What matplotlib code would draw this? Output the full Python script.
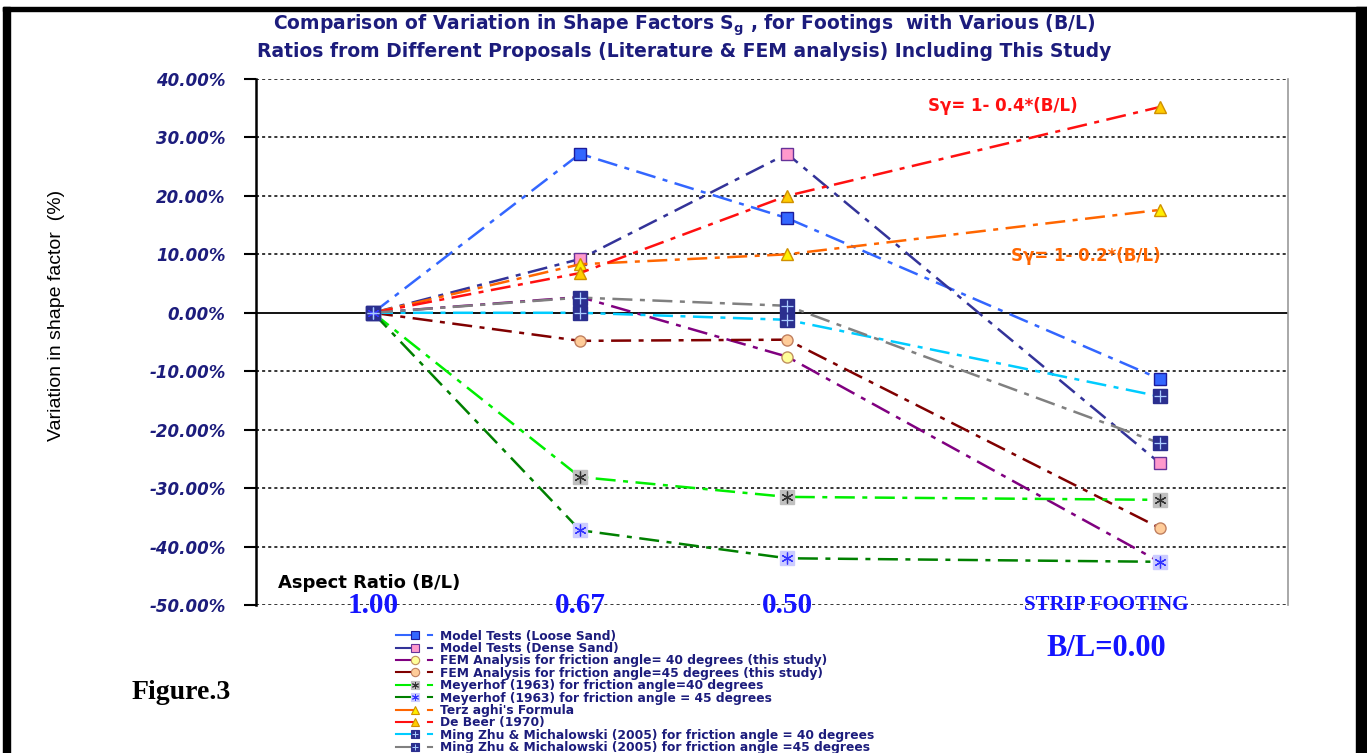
import matplotlib
matplotlib.use("Agg")
import matplotlib.pyplot as plt
from matplotlib.patches import Rectangle
from matplotlib.lines import Line2D
from matplotlib.legend_handler import HandlerBase
from matplotlib.ticker import FuncFormatter

plt.rcParams['font.family'] = ['DejaVu Sans']

# categories (aspect ratio B/L)
categories = ['1.00', '0.67', '0.50', 'STRIP FOOTING']
cat_pos = [0, 1, 2, 3.8]

# variation in shape factor (%)
loose_sand = [0, 27.2, 16.2, -11.3]
dense_sand = [0, 9.2, 27.2, -25.7]
fem_40 = [0, 2.7, -7.5, -42.6]
fem_45 = [0, -4.8, -4.6, -36.8]
meyerhof_40 = [0, -28.1, -31.5, -32.0]
meyerhof_45 = [0, -37.2, -42.0, -42.6]
terzaghi = [0, 8.3, 10.0, 17.6]
de_beer = [0, 6.8, 20.0, 35.2]
zhu_40 = [0, 0.0, -1.2, -14.3]
zhu_45 = [0, 2.6, 1.2, -22.3]

labels = [
    'Model Tests (Loose Sand)',
    'Model Tests (Dense Sand)',
    'FEM Analysis for friction angle= 40 degrees (this study)',
    'FEM Analysis for friction angle=45 degrees (this study)',
    'Meyerhof (1963) for friction angle=40 degrees',
    'Meyerhof (1963) for friction angle = 45 degrees',
    "Terz aghi's Formula",
    'De Beer (1970)',
    'Ming Zhu & Michalowski (2005) for friction angle = 40 degrees',
    'Ming Zhu & Michalowski (2005) for friction angle =45 degrees',
]

navy = '#1c1c7c'
dashdot = (0, (8, 3, 2, 3))
asterisk = (6, 2, 0)

fig = plt.figure(figsize=(13.67, 7.53), dpi=100)
ax = fig.add_axes([0.1873, 0.1965, 0.7549, 0.6986])

# series: values, line colour, marker, marker face, marker edge, size, overlay
series = [
    (loose_sand, '#3366ff', 's', '#3366ff', '#1c1c9c', 8, None),
    (dense_sand, '#333399', 's', '#ff99cc', '#663399', 8, None),
    (fem_40, '#800080', 'o', '#ffff99', '#c09060', 8, None),
    (fem_45, '#800000', 'o', '#ffcc99', '#c08060', 8, None),
    (meyerhof_40, '#00ee00', 's', '#c0c0c0', '#c0c0c0', 10, (asterisk, '#333333')),
    (meyerhof_45, '#008000', 's', '#ccccff', '#ccccff', 10, (asterisk, '#3333ff')),
    (terzaghi, '#ff6600', '^', '#ffee00', '#d09000', 9, None),
    (de_beer, '#ff1010', '^', '#ffcc00', '#d09000', 9, None),
    (zhu_40, '#00ccff', 's', '#2b2f8f', '#2b2f8f', 10, ('+', '#aaccff')),
    (zhu_45, '#808080', 's', '#2b2f8f', '#2b2f8f', 10, ('+', '#aaccff')),
]

handles = []
for vals, lc, mk, mfc, mec, ms, over in series:
    ax.plot(cat_pos, vals, color=lc, lw=1.8, linestyle=dashdot,
            marker=mk, markersize=ms, markerfacecolor=mfc,
            markeredgecolor=mec, markeredgewidth=1, zorder=3)
    # legend proxies: line, marker, optional overlay
    h = [Line2D([], [], color=lc, lw=1.5),
         Line2D([], [], linestyle='none', marker=mk, markersize=6,
                markerfacecolor=mfc, markeredgecolor=mec, markeredgewidth=0.8)]
    if over:
        ax.plot(cat_pos, vals, linestyle='none', marker=over[0],
                markersize=ms * 0.85, color=over[1], markeredgewidth=0.9,
                zorder=4)
        h.append(Line2D([], [], linestyle='none', marker=over[0], markersize=5,
                        color=over[1], markeredgewidth=0.7))
    handles.append(tuple(h))


class EndMarkerHandler(HandlerBase):
    def create_artists(self, legend, orig_handle, xdescent, ydescent, width,
                       height, fontsize, trans):
        y = height / 2 - ydescent
        x0 = -xdescent
        xm = x0 + 0.5 * width
        out = []
        for k, h in enumerate(orig_handle):
            if k == 0:
                a = Line2D([x0, xm], [y, y])
                a.update_from(h)
                d = Line2D([x0 + 0.82 * width, x0 + 0.93 * width], [y, y])
                d.update_from(h)
                d.set_transform(trans)
                out.append(d)
            else:
                a = Line2D([xm], [y])
                a.update_from(h)
            a.set_transform(trans)
            out.append(a)
        return out


ax.set_xlim(-0.565, 4.42)
ax.set_ylim(-50, 40)
ax.set_yticks(range(-50, 41, 10))
ax.yaxis.set_major_formatter(FuncFormatter(lambda v, p: '%.2f%%' % v))
for t in ax.get_yticklabels():
    t.set_fontsize(12)
    t.set_fontweight('bold')
    t.set_fontstyle('italic')
    t.set_color(navy)
ax.tick_params(axis='y', direction='out', length=9, width=1.5, pad=13)
ax.set_xticks([])

for v in range(-50, 41, 10):
    if v != 0:
        ax.axhline(v, color='black', lw=1.1, linestyle=(0, (2, 2)), zorder=1)
ax.axhline(0, color='black', lw=1.3, zorder=2)

ax.spines['top'].set_visible(False)
ax.spines['bottom'].set_visible(False)
ax.spines['left'].set_linewidth(1.8)
ax.spines['right'].set_color('#999999')
ax.spines['right'].set_linewidth(1.2)

ax.set_ylabel('Variation in shape factor  (%)', fontsize=14,
              family=['Liberation Sans Narrow', 'Liberation Sans'])
ax.yaxis.set_label_coords(-0.185, 0.551)

# category labels along the bottom
for p, c in zip(cat_pos[:3], categories[:3]):
    ax.text(p, -50, c, ha='center', va='center', fontsize=21, fontweight='bold',
            color='#1414ff', family='Liberation Serif', zorder=5)
ax.text(cat_pos[3] - 0.26, -50, categories[3], ha='center', va='center',
        fontsize=15, fontweight='bold', color='#1414ff',
        family='Liberation Serif', zorder=5)
fig.text(0.8094, 0.139, 'B/L=0.00', ha='center', va='center', fontsize=22,
         fontweight='bold', color='#1414ff', family='Liberation Serif')
ax.text(-0.458, -46.2, 'Aspect Ratio (B/L)', ha='left', va='center',
        fontsize=13, fontweight='bold', color='black')
fig.text(0.0965, 0.080, 'Figure.3', fontsize=20, fontweight='bold',
         family='Liberation Serif', va='center')

ax.text(2.68, 35.3, 'S\u03b3= 1- 0.4*(B/L)', color='#ff1010', fontsize=12,
        fontweight='bold', va='center')
ax.text(3.08, 9.8, 'S\u03b3= 1- 0.2*(B/L)', color='#ff6600', fontsize=12,
        fontweight='bold', va='center')

fig.text(0.5005, 0.984,
         'Comparison of Variation in Shape Factors S$_{\\mathregular{g}}$ , for Footings  with Various (B/L)\n'
         'Ratios from Different Proposals (Literature & FEM analysis) Including This Study',
         ha='center', va='top', fontsize=13.5, fontweight='bold', color=navy,
         linespacing=1.3)

leg = fig.legend(handles, labels, loc='upper left',
                 bbox_to_anchor=(0.285, 0.172), frameon=False, fontsize=8.8,
                 handlelength=3.2, handletextpad=0.4, labelspacing=-0.05,
                 borderpad=0, handler_map={tuple: EndMarkerHandler()})
for t in leg.get_texts():
    t.set_color(navy)
    t.set_fontweight('bold')

# black frame (left, top, right)
fig.add_artist(Rectangle((3 / 1367, 0), 7 / 1367, 1 - 7 / 753, color='black',
                         transform=fig.transFigure))
fig.add_artist(Rectangle((3 / 1367, 1 - 11 / 753), 1 - 3 / 1367, 4 / 753,
                         color='black', transform=fig.transFigure))
fig.add_artist(Rectangle((1356 / 1367, 0), 11 / 1367, 1 - 7 / 753,
                         color='black', transform=fig.transFigure))

fig.savefig('out.png', dpi=100)
